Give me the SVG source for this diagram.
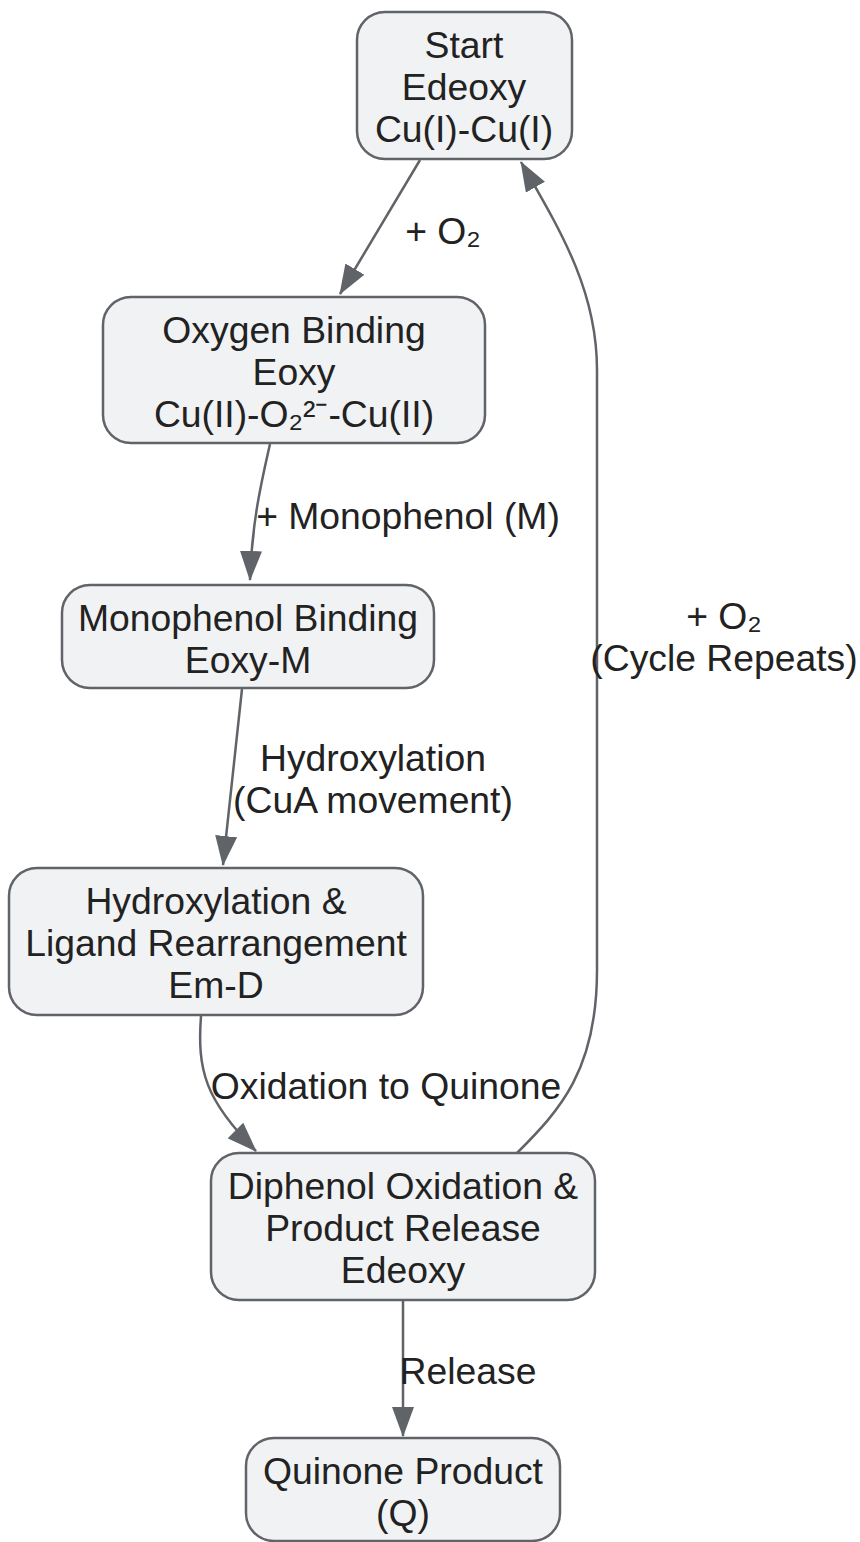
<svg xmlns="http://www.w3.org/2000/svg" width="860" height="1542" viewBox="0 0 860 1542">
<style>
.node rect{fill:#f1f2f4;stroke:#606368;stroke-width:2.5}
text{font-family:"Liberation Sans",Arial,sans-serif;font-size:37.3px;fill:#222222;text-anchor:middle}
.edge{fill:none;stroke:#606368;stroke-width:2.5}
</style>
<defs>
<marker id="arr" markerUnits="userSpaceOnUse" markerWidth="30" markerHeight="22" refX="29" refY="11" orient="auto" viewBox="0 0 30 22">
<path d="M0,0 L30,11 L0,22 z" fill="#606368"/>
</marker>
</defs>
<g id="connectors">
<path class="edge" d="M420,160 L340,294" marker-end="url(#arr)"/>
<path class="edge" d="M270,444 C262,480 252,520 250,580" marker-end="url(#arr)"/>
<path class="edge" d="M242,689 L223,865" marker-end="url(#arr)"/>
<path class="edge" d="M201,1016 C197,1070 205,1100 256,1151" marker-end="url(#arr)"/>
<path class="edge" d="M517,1153 C560,1110 597,1070 597,970 L597,370 C597,290 560,230 521,162" marker-end="url(#arr)"/>
<path class="edge" d="M403,1301 L403,1436" marker-end="url(#arr)"/>
<text x="443" y="244">+ O₂</text>
<text x="408" y="529">+ Monophenol (M)</text>
<text x="373" y="771">Hydroxylation</text>
<text x="373" y="813">(CuA movement)</text>
<text x="386" y="1099">Oxidation to Quinone</text>
<text x="724" y="629">+ O₂</text>
<text x="724" y="671">(Cycle Repeats)</text>
<text x="468" y="1384">Release</text>
</g>
<g id="start" class="node">
<rect x="357" y="12" width="215" height="147" rx="28"/>
<text x="464" y="58">Start</text>
<text x="464" y="100">Edeoxy</text>
<text x="464" y="142">Cu(I)-Cu(I)</text>
</g>
<g id="oxygen" class="node">
<rect x="103" y="297" width="382" height="146" rx="28"/>
<text x="294" y="343">Oxygen Binding</text>
<text x="294" y="385">Eoxy</text>
<text x="294" y="427">Cu(II)-O₂²⁻-Cu(II)</text>
</g>
<g id="monophenol" class="node">
<rect x="62" y="585" width="372" height="103" rx="28"/>
<text x="248" y="631">Monophenol Binding</text>
<text x="248" y="673">Eoxy-M</text>
</g>
<g id="hydroxylation" class="node">
<rect x="9" y="868" width="414" height="147" rx="28"/>
<text x="216" y="914">Hydroxylation &amp;</text>
<text x="216" y="956">Ligand Rearrangement</text>
<text x="216" y="998">Em-D</text>
</g>
<g id="diphenol" class="node">
<rect x="211" y="1153" width="384" height="147" rx="28"/>
<text x="403" y="1199">Diphenol Oxidation &amp;</text>
<text x="403" y="1241">Product Release</text>
<text x="403" y="1283">Edeoxy</text>
</g>
<g id="quinone" class="node">
<rect x="246" y="1438" width="314" height="103" rx="28"/>
<text x="403" y="1484">Quinone Product</text>
<text x="403" y="1526">(Q)</text>
</g>
</svg>
